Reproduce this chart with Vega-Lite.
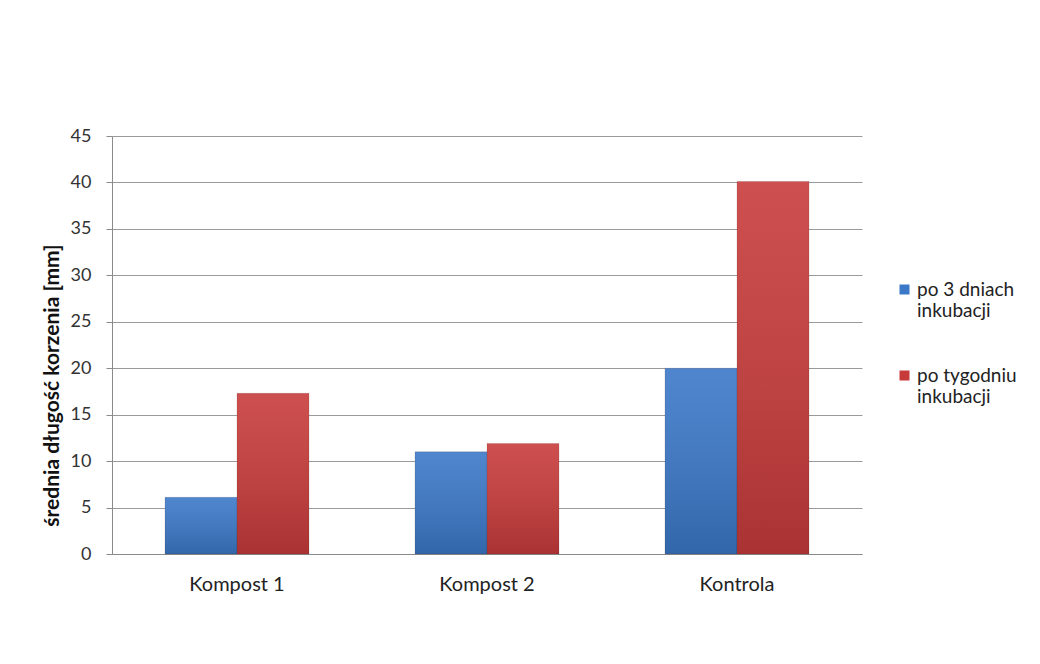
{
  "$schema": "https://vega.github.io/schema/vega-lite/v6.json",
  "width": 750,
  "height": 418,
  "autosize": {"type": "none"},
  "padding": {"left": 112, "top": 136, "right": 178, "bottom": 110},
  "background": "white",
  "config": {
    "font": "Lato",
    "view": {"stroke": null},
    "axis": {"labelFont": "Lato", "titleFont": "Lato"},
    "legend": {"labelFont": "Lato"}
  },
  "data": {
    "values": [
      {"grupa": "Kompost 1", "seria": "po 3 dniach inkubacji", "wartosc": 6.1},
      {"grupa": "Kompost 1", "seria": "po tygodniu inkubacji", "wartosc": 17.3},
      {"grupa": "Kompost 2", "seria": "po 3 dniach inkubacji", "wartosc": 11.0},
      {"grupa": "Kompost 2", "seria": "po tygodniu inkubacji", "wartosc": 11.9},
      {"grupa": "Kontrola", "seria": "po 3 dniach inkubacji", "wartosc": 20.0},
      {"grupa": "Kontrola", "seria": "po tygodniu inkubacji", "wartosc": 40.1}
    ]
  },
  "encoding": {
    "x": {
      "field": "grupa",
      "type": "nominal",
      "sort": ["Kompost 1", "Kompost 2", "Kontrola"],
      "scale": {"paddingInner": 0.424, "paddingOuter": 0.212},
      "axis": {
        "title": null,
        "labelAngle": 0,
        "labelFontSize": 20,
        "labelColor": "#222222",
        "labelPadding": 20,
        "ticks": false,
        "domainColor": "#8a8a8a",
        "domainWidth": 1
      }
    },
    "xOffset": {
      "field": "seria",
      "type": "nominal",
      "scale": {"paddingInner": 0, "paddingOuter": 0}
    },
    "y": {
      "field": "wartosc",
      "type": "quantitative",
      "scale": {"domain": [0, 45], "nice": false},
      "axis": {
        "title": "średnia długość korzenia [mm]",
        "titleFontSize": 21,
        "titleFontWeight": "bold",
        "titleColor": "#111111",
        "titlePadding": 8,
        "titleY": 249,
        "values": [0, 5, 10, 15, 20, 25, 30, 35, 40, 45],
        "labelFontSize": 18,
        "labelColor": "#333333",
        "labelPadding": 15,
        "tickSize": 6,
        "tickColor": "#8a8a8a",
        "domainColor": "#8a8a8a",
        "gridColor": "#9a9a9a",
        "grid": true
      }
    }
  },
  "layer": [
    {
      "mark": {"type": "bar", "stroke": "#402020", "strokeOpacity": 0.25, "strokeWidth": 0.6},
      "encoding": {
        "color": {
          "field": "seria",
          "type": "nominal",
          "scale": {"domain": ["po 3 dniach inkubacji", "po tygodniu inkubacji"], "range": ["#3b78c8", "#c83b3b"]},
          "legend": {
            "title": null,
            "orient": "none",
            "legendX": 783,
            "legendY": 144,
            "symbolType": "square",
            "symbolSize": 100,
            "symbolStrokeWidth": 0,
            "labelFontSize": 19,
            "labelColor": "#222222",
            "labelExpr": "datum.label == 'po 3 dniach inkubacji' ? ['po 3 dniach', 'inkubacji'] : ['po tygodniu', 'inkubacji']",
            "labelLineHeight": 25,
            "rowPadding": 45,
            "labelOffset": 3
          }
        }
      }
    },
    {
      "mark": {
        "type": "bar",
        "color": {
          "gradient": "linear",
          "x1": 0, "y1": 0, "x2": 0, "y2": 1,
          "stops": [
            {"offset": 0, "color": "rgba(255,255,255,0.1)"},
            {"offset": 1, "color": "rgba(0,0,0,0.15)"}
          ]
        }
      },
      "encoding": {}
    }
  ]
}
